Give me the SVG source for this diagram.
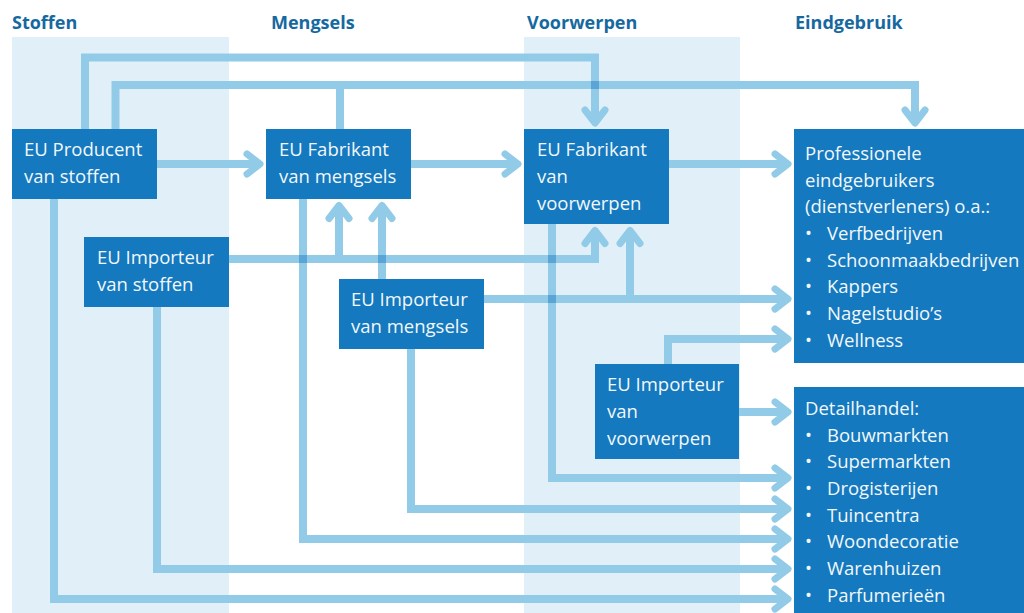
<svg xmlns="http://www.w3.org/2000/svg" width="1024" height="613" viewBox="0 0 1024 613">
<style>
.hdr{font-family:"Open Sans","Liberation Sans",sans-serif;font-weight:bold;font-size:18px;fill:#15699f}
.box{fill:#1479be}
.t{font-family:"Open Sans","Liberation Sans",sans-serif;font-size:18.5px;fill:#f2f7fb}
.ln{fill:none;stroke:#92cbe7;stroke-width:8;stroke-linejoin:miter;stroke-linecap:butt}
.arr{marker-end:url(#chev)}
.x{fill:#5aa5d5}
</style>
<defs>
<marker id="chev" markerUnits="userSpaceOnUse" markerWidth="40" markerHeight="40" refX="0" refY="0" orient="auto" overflow="visible">
<path d="M-12,-10 L1,0 L-12,10" fill="none" stroke="#92cbe7" stroke-width="7" stroke-linecap="round" stroke-linejoin="round"/>
</marker>
</defs>
<rect width="1024" height="613" fill="#ffffff"/>
<g id="bands">
<rect x="12" y="37" width="217" height="576" fill="#e1f0f8"/>
<rect x="524" y="37" width="216" height="576" fill="#e1f0f8"/>
</g>
<g id="headers">
<text class="hdr" x="12" y="29">Stoffen</text>
<text class="hdr" x="271" y="29">Mengsels</text>
<text class="hdr" x="527" y="29">Voorwerpen</text>
<text class="hdr" x="795" y="29">Eindgebruik</text>
</g>
<g id="connectors">
<path class="ln arr" d="M157,164 H259"/>
<path class="ln arr" d="M411,164 H517"/>
<path class="ln arr" d="M669,164 H787"/>
<path class="ln arr" d="M85,129 V57.5 H595 V122"/>
<path class="ln arr" d="M115.5,129 V85 H915 V122"/>
<path class="ln" d="M340,129 V85"/>
<path class="ln arr" d="M229,259 H595 V231.5"/>
<path class="ln arr" d="M339,259 V206.5"/>
<path class="ln arr" d="M382,279 V206.5"/>
<path class="ln arr" d="M484,299 H787"/>
<path class="ln arr" d="M630,299 V231.5"/>
<path class="ln arr" d="M668,364 V339 H787"/>
<path class="ln arr" d="M739,412 H787"/>
<path class="ln arr" d="M54,199 V599 H787"/>
<path class="ln arr" d="M157,307 V569 H787"/>
<path class="ln arr" d="M303,199 V539 H787"/>
<path class="ln arr" d="M411,349 V509 H787"/>
<path class="ln arr" d="M552,224 V478 H787"/>
<rect class="x" x="591" y="81" width="8" height="8"/>
<rect class="x" x="299" y="255" width="8" height="8"/>
<rect class="x" x="378" y="255" width="8" height="8"/>
<rect class="x" x="548" y="255" width="8" height="8"/>
<rect class="x" x="548" y="295" width="8" height="8"/>
</g>
<g id="producent-stoffen">
<rect class="box" x="12" y="129" width="145" height="70"/>
<text class="t" x="24" y="156">EU Producent</text>
<text class="t" x="24" y="183">van stoffen</text>
</g>
<g id="fabrikant-mengsels">
<rect class="box" x="266" y="129" width="145" height="70"/>
<text class="t" x="279" y="156">EU Fabrikant</text>
<text class="t" x="279" y="183">van mengsels</text>
</g>
<g id="fabrikant-voorwerpen">
<rect class="box" x="524" y="129" width="145" height="95"/>
<text class="t" x="537" y="156">EU Fabrikant</text>
<text class="t" x="537" y="183">van</text>
<text class="t" x="537" y="210">voorwerpen</text>
</g>
<g id="importeur-stoffen">
<rect class="box" x="84" y="237" width="145" height="70"/>
<text class="t" x="97" y="264">EU Importeur</text>
<text class="t" x="97" y="291">van stoffen</text>
</g>
<g id="importeur-mengsels">
<rect class="box" x="339" y="279" width="145" height="70"/>
<text class="t" x="351" y="306">EU Importeur</text>
<text class="t" x="351" y="333">van mengsels</text>
</g>
<g id="importeur-voorwerpen">
<rect class="box" x="595" y="364" width="144" height="95"/>
<text class="t" x="607" y="391">EU Importeur</text>
<text class="t" x="607" y="418">van</text>
<text class="t" x="607" y="445">voorwerpen</text>
</g>
<g id="professionele">
<rect class="box" x="794" y="129" width="230" height="234"/>
<text class="t" x="805" y="160">Professionele</text>
<text class="t" x="805" y="187">eindgebruikers</text>
<text class="t" x="805" y="213">(dienstverleners) o.a.:</text>
<text class="t" x="805" y="240">•</text><text class="t" x="827" y="240">Verfbedrijven</text>
<text class="t" x="805" y="267">•</text><text class="t" x="827" y="267">Schoonmaakbedrijven</text>
<text class="t" x="805" y="293">•</text><text class="t" x="827" y="293">Kappers</text>
<text class="t" x="805" y="320">•</text><text class="t" x="827" y="320">Nagelstudio’s</text>
<text class="t" x="805" y="347">•</text><text class="t" x="827" y="347">Wellness</text>
</g>
<g id="detailhandel">
<rect class="box" x="794" y="387" width="230" height="226"/>
<text class="t" x="805" y="415">Detailhandel:</text>
<text class="t" x="805" y="442">•</text><text class="t" x="827" y="442">Bouwmarkten</text>
<text class="t" x="805" y="468">•</text><text class="t" x="827" y="468">Supermarkten</text>
<text class="t" x="805" y="495">•</text><text class="t" x="827" y="495">Drogisterijen</text>
<text class="t" x="805" y="522">•</text><text class="t" x="827" y="522">Tuincentra</text>
<text class="t" x="805" y="548">•</text><text class="t" x="827" y="548">Woondecoratie</text>
<text class="t" x="805" y="575">•</text><text class="t" x="827" y="575">Warenhuizen</text>
<text class="t" x="805" y="602">•</text><text class="t" x="827" y="602">Parfumerieën</text>
</g>
</svg>
